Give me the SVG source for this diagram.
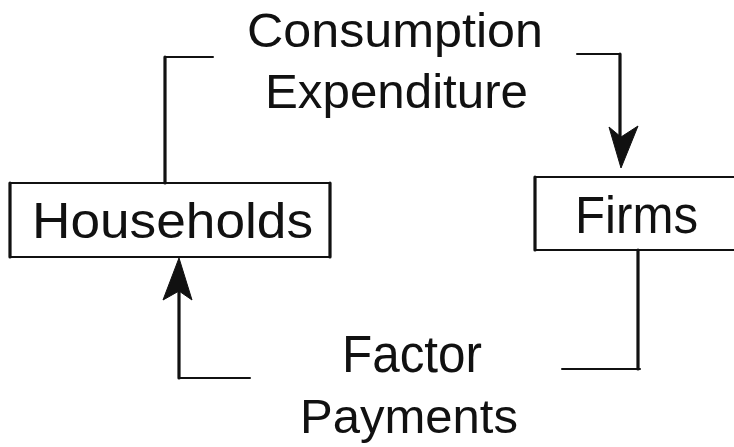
<svg xmlns="http://www.w3.org/2000/svg" width="734" height="447" viewBox="0 0 734 447">
  <style>
    .lbl { font-family: "Liberation Sans", Arial, sans-serif; fill: #111; }
    .edge { fill: none; stroke: #111; stroke-linecap: round; stroke-linejoin: round; }
    .thin { stroke-width: 2; }
    .thick { stroke-width: 3.2; }
    .head { fill: #111; stroke: #111; stroke-width: 1; stroke-linejoin: round; }
  </style>
  <rect width="734" height="447" fill="#fff"/>

  <g id="households">
    <path class="edge thin" d="M10,183 H329 M10,257 H329"/>
    <path class="edge thick" d="M10,183 V257 M330,183 V257"/>
    <text class="lbl" x="32" y="238" font-size="50" textLength="281" lengthAdjust="spacingAndGlyphs">Households</text>
  </g>

  <g id="firms">
    <path class="edge thin" d="M535,177 H734 M535,250 H734"/>
    <path class="edge thick" d="M535,177 V250"/>
    <text class="lbl" x="575" y="233" font-size="51" textLength="123" lengthAdjust="spacingAndGlyphs">Firms</text>
  </g>

  <g id="label-consumption">
    <text class="lbl" x="247" y="47" font-size="49" textLength="296" lengthAdjust="spacingAndGlyphs">Consumption</text>
    <text class="lbl" x="265" y="108" font-size="49" textLength="263" lengthAdjust="spacingAndGlyphs">Expenditure</text>
  </g>

  <g id="label-factor">
    <text class="lbl" x="342" y="372" font-size="51" textLength="140" lengthAdjust="spacingAndGlyphs">Factor</text>
    <text class="lbl" x="300" y="433" font-size="49" textLength="218" lengthAdjust="spacingAndGlyphs">Payments</text>
  </g>

  <g id="connectors">
    <!-- households -> firms : consumption expenditure -->
    <path class="edge thin" d="M165,57 H213"/>
    <path class="edge thick" d="M165,183 V57"/>
    <path class="edge thin" d="M577,54 H620"/>
    <path class="edge thick" d="M620,54 V140"/>
    <path class="head" d="M609,127 L621,137 L638,126 L621,168 Z"/>
    <!-- firms -> households : factor payments -->
    <path class="edge thick" d="M638,250 V369"/>
    <path class="edge thin" d="M562,369 H640"/>
    <path class="edge thick" d="M179,378 V290"/>
    <path class="edge thin" d="M179,378 H250"/>
    <path class="head" d="M163,300 L179,291 L192,300 L179,258 Z"/>
  </g>
</svg>
